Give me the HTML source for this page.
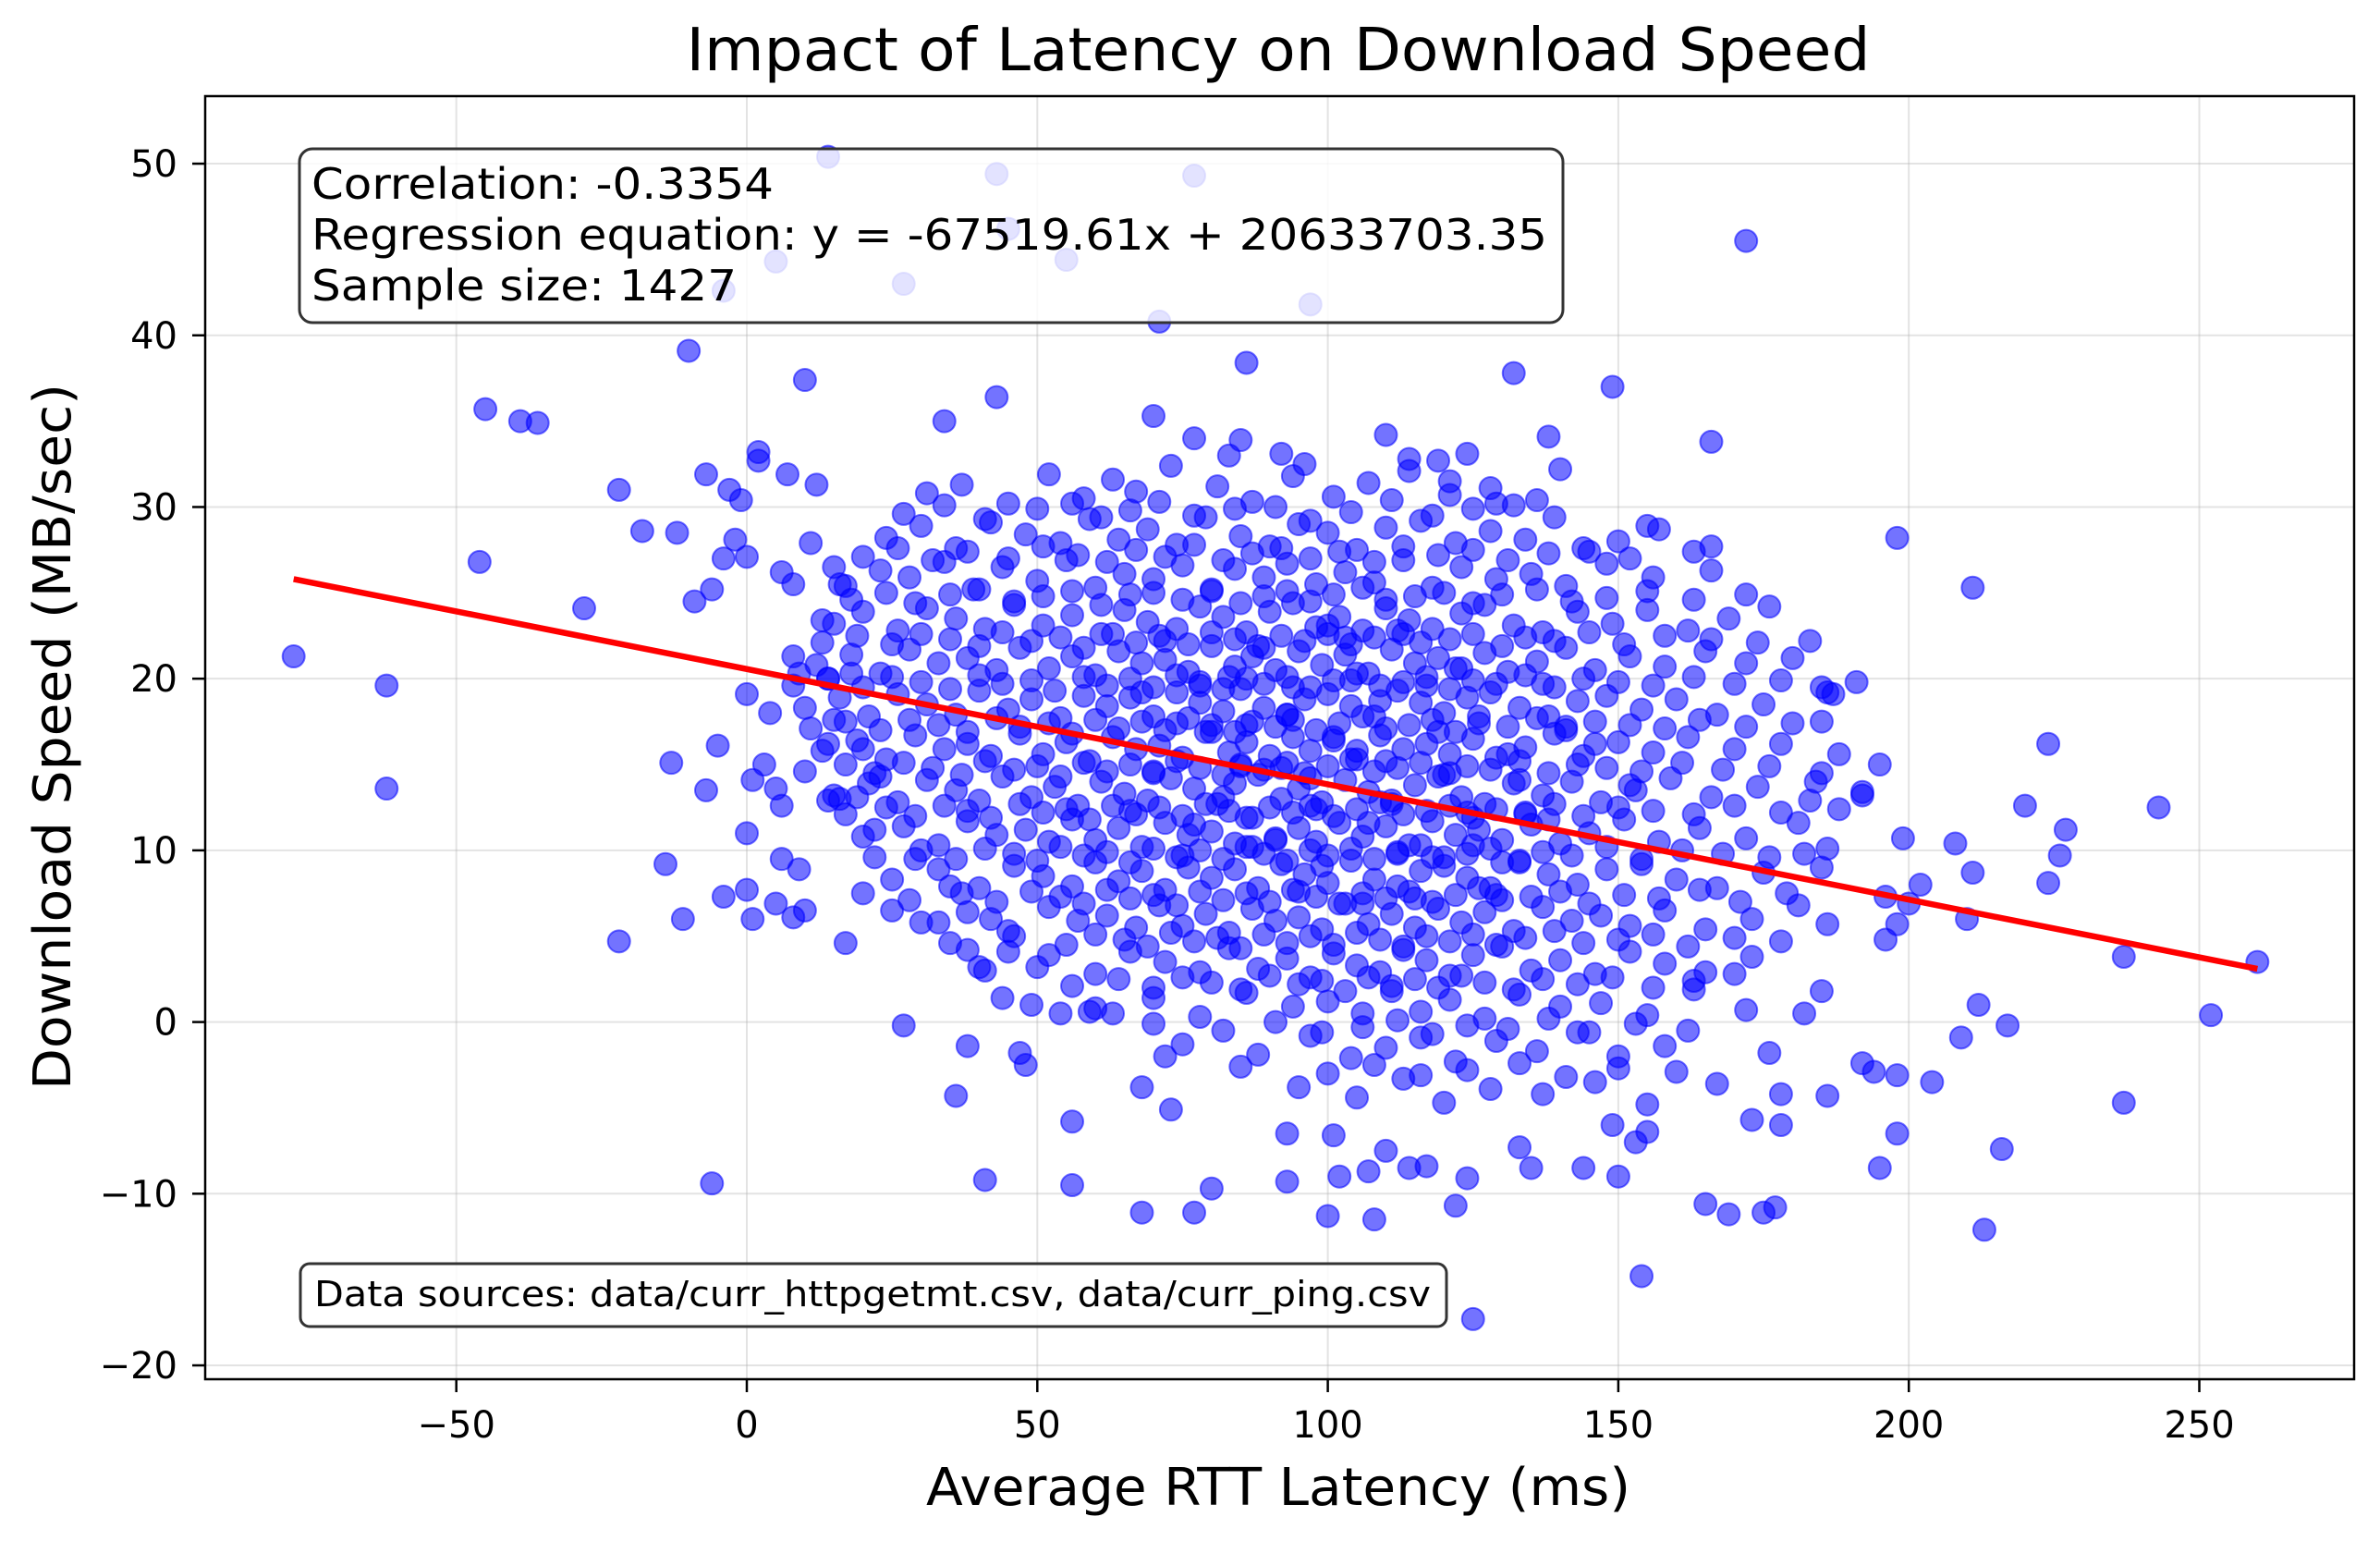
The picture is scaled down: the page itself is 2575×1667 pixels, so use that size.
<!DOCTYPE html>
<html><head><meta charset="utf-8"><style>
html,body{margin:0;padding:0;background:#fff;}
svg{display:block;font-family:"DejaVu Sans","Liberation Sans",sans-serif;}
</style></head><body>
<svg id="chart" width="2575" height="1667" viewBox="0 0 2575 1667" xmlns="http://www.w3.org/2000/svg">
<rect width="2575" height="1667" fill="#fff"/>
<text x="1383" y="76" font-size="64" text-anchor="middle" textLength="1281" lengthAdjust="spacingAndGlyphs">Impact of Latency on Download Speed</text>
<g id="grid"></g>
<g id="points"></g>
<g id="reg"></g>
<rect x="222" y="104" width="2325" height="1388" fill="none" stroke="#000" stroke-width="2.5"/>
<g id="ticks"></g>
<text x="1383" y="1628" font-size="56" text-anchor="middle" textLength="762" lengthAdjust="spacingAndGlyphs">Average RTT Latency (ms)</text>
<text x="0" y="0" font-size="56" text-anchor="middle" textLength="764" lengthAdjust="spacingAndGlyphs" transform="translate(76,797) rotate(-90)">Download Speed (MB/sec)</text>
<g>
<rect x="324" y="161" width="1367" height="188" rx="14" fill="#fff" fill-opacity="0.8" stroke="#333" stroke-width="3"/>
<text x="337" y="215" font-size="46" textLength="500" lengthAdjust="spacingAndGlyphs">Correlation: -0.3354</text>
<text x="337" y="270" font-size="46" textLength="1337" lengthAdjust="spacingAndGlyphs">Regression equation: y = -67519.61x + 20633703.35</text>
<text x="337" y="325" font-size="46" textLength="460" lengthAdjust="spacingAndGlyphs">Sample size: 1427</text>
</g>
<g>
<rect x="325" y="1367" width="1240" height="68" rx="10" fill="#fff" fill-opacity="0.8" stroke="#333" stroke-width="3"/>
<text x="340" y="1413" font-size="38" textLength="1208" lengthAdjust="spacingAndGlyphs">Data sources: data/curr_httpgetmt.csv, data/curr_ping.csv</text>
</g>
</svg>
<script>
const xTicks = [-50, 0, 50, 100, 150, 200, 250];
const yTicks = [-20, -10, 0, 10, 20, 30, 40, 50];
const regStart = [-78, 25.8];
const regEnd = [260, 3.1];
const latency = [
-78,-62,-62,-46,-45,-39,-36,-28,-22,-22,-18,-14,-13,-12,-11,-10,-9,-7,-7,-6,-6,-5,-4,-4,-4,-3,-2,-1,0,0,0,0,1,1,2,2,3,4,5,5,5,6,6,6,7,8,8,8,9,9,10,10,11,12,
14,27,43,45,55,77,71,97,172,86,132,149,43,34,70,77,85,83,92,96,110,114,119,124,121,129,140,138,166,150,155,166,198,211,224,220,227,226,224,243,237,252,260,237,216,213,212,217,204,209,210,208,211,199,198,196,198,198,195,194,192,196,200,202,192,191,186,185,184,183,182,182,186,186,185,178,176,178,175,177,173,169,165,154,153,155,150,149,144,135,133,125,122,124,114,117,108,107,110,102,101,93,93,100,77,68,80,56,41,36,56,73,68,72,47,48,38,27,63,59,54,49,44,45,42,50,41,38,33,35,29,25,20,17,22,23,19,16,14,18,20,15,14,13,14,15,16,
31,37,45,52,58,63,67,73,81,87,94,101,107,114,121,128,136,
24,30,36,42,48,54,59,64,69,74,79,85,90,95,100,105,110,116,122,128,134,145,157,
17,23,28,34,39,44,50,55,60,65,70,75,80,84,89,93,98,103,108,113,118,123,129,135,141,148,156,166,
15,20,26,31,36,41,46,51,56,61,65,69,74,78,82,86,90,94,98,102,106,110,114,118,123,127,132,137,143,149,155,162,169,176,
12,18,23,28,33,38,43,47,52,56,60,64,68,72,76,80,84,87,91,95,99,103,107,111,115,119,123,127,131,136,141,146,152,158,165,172,180,
10,16,21,26,31,36,40,45,49,54,58,62,66,70,74,78,82,85,89,93,96,100,104,108,112,116,120,124,128,133,138,143,148,154,160,167,175,187,
13,19,24,29,34,38,42,47,51,55,59,63,67,71,75,79,83,86,90,94,97,101,105,109,113,117,121,125,129,134,139,144,150,156,162,170,178,188,
15,21,26,31,36,40,44,49,53,57,61,65,69,73,77,81,84,88,92,95,99,103,107,111,115,119,123,127,132,137,142,147,153,159,166,174,183,192,
20,27,33,38,43,48,52,56,60,64,68,72,76,80,84,87,91,95,98,102,106,110,114,118,122,126,130,135,140,145,151,157,164,172,181,
25,33,40,46,51,56,60,64,68,72,76,80,84,88,92,96,100,104,108,112,116,120,124,128,133,138,143,148,154,160,167,175,185,
30,38,45,52,57,62,67,71,75,79,83,87,91,95,99,103,107,111,115,119,123,127,132,137,142,147,152,158,165,173,181,
40,52,60,66,72,78,83,88,93,97,101,105,109,113,117,121,125,130,135,140,146,152,158,165,173,
60,70,78,86,94,100,106,111,116,121,127,133,140,147,155,163,172,
75,88,97,104,110,116,122,129,136,143,150,158,
95,105,113,120,128,137,146,155,167,
72,78,86,92,98,104,110,118,126,134,
75,82,89,95,101,107,113,121,129,137,
70,80,87,94,100,106,112,119,124,131,
66,74,83,91,97,103,109,115,122,130,138,146,
68,77,85,93,99,105,111,117,125,133,141,152,
27,34,41,50,56,61,66,71,77,84,91,97,104,111,118,125,132,139,
20,26,32,38,45,51,57,62,67,72,77,82,87,92,97,102,108,113,119,125,131,138,144,152,163,
18,24,29,35,40,46,51,56,61,66,70,75,80,85,89,93,97,101,106,110,115,120,125,130,136,142,148,155,163,172,
13,19,25,30,35,40,44,49,54,58,63,67,71,76,80,84,88,92,96,100,104,108,112,116,121,125,130,134,139,145,151,158,166,174,
8,14,20,25,30,35,40,44,49,53,58,62,66,70,74,78,82,86,89,93,97,101,105,109,113,117,121,125,129,134,139,144,150,156,163,170,178,185,
11,17,23,28,33,38,43,47,52,56,60,64,68,72,76,80,84,87,91,94,98,102,106,110,114,118,122,126,131,136,141,146,152,158,164,172,180,
10,17,22,27,32,37,41,46,50,54,58,62,66,70,74,78,82,85,89,93,96,100,104,108,112,116,120,124,128,133,138,143,148,154,161,168,176,185,195,
17,24,29,34,38,42,47,51,55,59,63,67,71,75,79,83,86,90,94,97,101,105,109,113,117,121,125,129,134,139,144,150,156,163,170,178,188,
22,30,36,41,46,50,54,58,62,66,70,74,78,82,86,89,93,97,100,104,108,112,116,120,124,128,133,137,142,148,154,161,168,176,186,
28,37,43,49,54,58,62,66,70,74,78,82,86,90,94,98,102,106,110,114,118,122,126,130,135,140,145,151,157,164,171,179,
35,46,55,60,65,69,73,77,81,85,89,93,97,101,105,109,113,117,121,125,129,134,139,144,150,156,162,170,178,
56,64,70,75,80,85,90,95,99,103,107,111,115,119,123,127,132,137,143,149,156,163,170,
70,82,91,99,106,112,118,124,131,138,145,153,162,
85,100,108,116,124,133,141,150,160
];
const speed = [
21.3,19.6,13.6,26.8,35.7,35,34.9,24.1,31,4.7,28.6,9.2,15.1,28.5,6,39.1,24.5,31.9,13.5,-9.4,25.2,16.1,42.6,7.3,27,31,28.1,30.4,19.1,7.7,27.1,11,14.1,6,33.2,32.7,15,18,44.3,6.9,13.6,26.2,9.5,12.6,31.9,25.5,21.3,6.1,8.9,20.3,37.4,6.5,27.9,31.3,
50.4,43,49.4,46.2,44.4,49.3,40.8,41.8,45.5,38.4,37.8,37,36.4,35,35.3,34,33.9,33,33.1,32.5,34.2,32.8,32.7,33.1,31.5,30.2,32.2,34.1,33.8,28,28.9,27.7,28.2,25.3,16.2,12.6,11.2,9.7,8.1,12.5,3.8,0.4,3.5,-4.7,-7.4,-12.1,1,-0.2,-3.5,-0.9,6,10.4,8.7,10.7,5.7,4.8,-3.1,-6.5,-8.5,-2.9,-2.4,7.3,6.9,8,13.2,19.8,19.2,17.5,14,22.2,9.8,0.5,5.7,-4.3,1.8,-6,-1.8,-4.2,-11.1,-10.8,-5.7,-11.2,-10.6,-14.8,-7,-6.4,-9,-6,-8.5,-8.5,-7.3,-17.3,-10.7,-9.1,-8.5,-8.4,-11.5,-8.7,-7.5,-9,-6.6,-6.5,-9.3,-11.3,-11.1,-11.1,-9.7,-9.5,-9.2,-4.3,-5.8,-5.1,-3.8,-2,-1.8,-2.5,-1.4,-0.2,0.5,0.6,0.5,1,1.4,4.1,6,3.2,3,4.2,5.8,7.9,9.5,6.5,7.5,4.6,11.2,14.3,13.1,13,12.9,20.3,15.9,17.6,16.2,23.4,20,26.5,25.5,
30.8,31.3,30.2,31.9,30.5,31.6,30.9,32.4,31.2,30.3,31.8,30.6,31.4,32.1,30.7,31.1,30.4,
28.2,28.9,27.6,29.1,28.4,27.9,29.3,28.1,28.7,27.8,29.4,28.3,27.7,29.0,28.5,27.5,28.8,29.2,27.9,28.6,28.1,27.4,28.7,
25.4,26.3,25.9,26.8,25.2,26.5,25.7,26.9,25.3,26.1,25.8,26.6,25.1,26.4,25.9,26.7,25.5,26.2,25.6,26.9,25.3,26.5,25.8,26.1,25.4,26.7,25.9,26.3,
23.2,23.9,22.8,24.1,23.5,22.9,24.3,23.1,23.7,22.6,24.0,23.3,22.9,24.2,23.6,22.7,23.9,24.4,23.0,23.6,22.8,24.1,23.4,22.9,23.8,24.3,23.1,22.7,23.9,23.2,24.0,22.8,23.5,24.2,
20.8,21.4,20.3,21.7,20.9,21.2,20.5,21.8,20.6,21.3,20.2,21.6,20.9,21.1,20.4,21.9,20.7,21.3,20.5,21.6,20.8,21.4,20.3,21.7,20.9,21.2,20.6,21.5,20.4,21.0,21.8,20.5,21.3,20.7,21.6,20.9,21.2,
18.3,18.9,17.8,19.1,18.5,17.9,19.3,18.2,18.8,17.7,19.0,18.4,18.9,17.8,19.2,18.6,18.1,19.4,18.3,17.9,18.8,19.1,18.4,17.8,19.3,18.6,18.0,18.9,19.2,18.3,17.8,18.7,19.0,18.2,18.8,17.9,18.5,19.1,
15.8,16.4,15.3,16.7,15.9,16.2,15.5,16.8,15.6,16.3,15.2,16.6,15.9,16.1,15.4,16.9,15.7,16.3,15.5,16.6,15.8,16.4,15.3,16.7,15.9,16.2,15.6,16.5,15.4,16.0,16.8,15.5,16.3,15.7,16.6,15.9,16.2,15.6,
13.2,13.9,12.8,14.1,13.5,12.9,14.3,13.1,13.7,12.6,14.0,13.3,12.9,14.2,13.6,12.7,13.9,14.4,13.0,13.6,12.8,14.1,13.4,12.9,13.8,14.3,13.1,12.7,13.9,13.2,14.0,12.8,13.5,14.2,13.1,13.7,12.9,13.4,
10.8,11.4,10.3,11.7,10.9,11.2,10.5,11.8,10.6,11.3,10.2,11.6,10.9,11.1,10.4,11.9,10.7,11.3,10.5,11.6,10.8,11.4,10.3,11.7,10.9,11.2,10.6,11.5,10.4,11.0,11.8,10.5,11.3,10.7,11.6,
8.3,8.9,7.8,9.1,8.5,7.9,9.3,8.2,8.8,7.7,9.0,8.4,8.9,7.8,9.2,8.6,8.1,9.4,8.3,7.9,8.8,9.1,8.4,7.8,9.3,8.6,8.0,8.9,9.2,8.3,7.8,8.7,9.0,
5.8,6.4,5.3,6.7,5.9,6.2,5.5,6.8,5.6,6.3,5.2,6.6,5.9,6.1,5.4,6.9,5.7,6.3,5.5,6.6,5.8,6.4,5.3,6.7,5.9,6.2,5.6,6.5,5.4,6.0,6.8,
3.2,3.9,2.8,4.1,3.5,2.9,4.3,3.1,3.7,2.6,4.0,3.3,2.9,4.2,3.6,2.7,3.9,4.4,3.0,3.6,2.8,4.1,3.4,2.9,3.8,
0.8,1.4,0.3,1.7,0.9,1.2,0.5,1.8,0.6,1.3,0.2,1.6,0.9,1.1,0.4,1.9,0.7,
-1.3,-1.9,-0.8,-2.1,-1.5,-0.9,-2.3,-1.1,-1.7,-0.6,-2.0,-1.4,
-3.8,-4.4,-3.3,-4.7,-3.9,-4.2,-3.5,-4.8,-3.6,
22.2,19.6,17.3,14.8,12.4,19.9,15.2,9.6,17.8,12.1,
9.7,13.1,21.8,7.6,16.6,11.6,22.6,14.5,7.4,19.7,
14.6,16.9,10.2,19.5,23.1,6.9,9.8,16.9,12.2,15.6,
12.3,17.4,20.1,10.6,14.2,22.4,18.7,7.2,20.6,9.3,11.8,16.2,
19.2,11.5,14.9,17.9,9.1,15.8,12.7,19.6,10.3,14.1,17.2,13.8,
29.6,30.1,29.3,29.9,30.2,29.4,29.8,30.3,29.5,29.9,30.0,29.2,29.7,30.4,29.5,29.9,30.1,29.4,
27.1,27.6,26.9,27.4,27.0,27.7,27.2,26.8,27.5,27.1,27.8,26.9,27.3,27.6,27.0,27.4,26.8,27.7,27.2,27.5,26.9,27.3,27.6,27.0,27.4,
24.6,25.0,24.4,24.9,25.2,24.5,24.8,25.1,24.3,24.9,25.0,24.6,25.2,24.4,24.8,25.1,24.5,24.9,25.3,24.6,24.8,25.0,24.4,24.9,25.2,24.5,24.7,25.1,24.6,24.9,
22.1,22.5,22.0,22.6,22.3,21.9,22.7,22.2,22.4,21.8,22.6,22.1,22.5,22.0,22.7,22.3,21.9,22.5,22.2,22.6,22.0,22.4,22.8,22.1,22.3,22.6,21.9,22.4,22.2,22.7,22.0,22.5,22.3,22.1,
19.6,20.0,19.5,20.1,19.8,19.4,20.2,19.7,19.9,19.3,20.1,19.6,20.0,19.5,20.2,19.8,19.4,20.0,19.7,20.1,19.5,19.9,20.3,19.6,19.8,20.1,19.4,19.9,19.7,20.2,19.5,20.0,19.8,19.6,20.1,19.7,19.9,19.5,
17.1,17.5,17.0,17.6,17.3,16.9,17.7,17.2,17.4,16.8,17.6,17.1,17.5,17.0,17.7,17.3,16.9,17.5,17.2,17.6,17.0,17.4,17.8,17.1,17.3,17.6,16.9,17.4,17.2,17.7,17.0,17.5,17.3,17.1,17.6,17.2,17.4,
14.6,15.0,14.5,15.1,14.8,14.4,15.2,14.7,14.9,14.3,15.1,14.6,15.0,14.5,15.2,14.8,14.4,15.0,14.7,15.1,14.5,14.9,15.3,14.6,14.8,15.1,14.4,14.9,14.7,15.2,14.5,15.0,14.8,14.6,15.1,14.7,14.9,14.5,15.0,
12.1,12.5,12.0,12.6,12.3,11.9,12.7,12.2,12.4,11.8,12.6,12.1,12.5,12.0,12.7,12.3,11.9,12.5,12.2,12.6,12.0,12.4,12.8,12.1,12.3,12.6,11.9,12.4,12.2,12.7,12.0,12.5,12.3,12.1,12.6,12.2,12.4,
9.6,10.0,9.5,10.1,9.8,9.4,10.2,9.7,9.9,9.3,10.1,9.6,10.0,9.5,10.2,9.8,9.4,10.0,9.7,10.1,9.5,9.9,10.3,9.6,9.8,10.1,9.4,9.9,9.7,10.2,9.5,10.0,9.8,9.6,10.1,
7.1,7.5,7.0,7.6,7.3,6.9,7.7,7.2,7.4,6.8,7.6,7.1,7.5,7.0,7.7,7.3,6.9,7.5,7.2,7.6,7.0,7.4,7.8,7.1,7.3,7.6,6.9,7.4,7.2,7.7,7.0,7.5,
4.6,5.0,4.5,5.1,4.8,4.4,5.2,4.7,4.9,4.3,5.1,4.6,5.0,4.5,5.2,4.8,4.4,5.0,4.7,5.1,4.5,4.9,5.3,4.6,4.8,5.1,4.4,4.9,4.7,
2.1,2.5,2.0,2.6,2.3,1.9,2.7,2.2,2.4,1.8,2.6,2.1,2.5,2.0,2.7,2.3,1.9,2.5,2.2,2.6,2.0,2.4,2.8,
-0.1,-0.5,0.0,-0.6,-0.3,0.1,-0.7,-0.2,-0.4,0.2,-0.6,-0.1,-0.5,
-2.6,-3.0,-2.5,-3.1,-2.8,-2.4,-3.2,-2.7,-2.9
];
const NS = 'http://www.w3.org/2000/svg';
const L = 222, R = 2547, T = 104, B = 1492;
function X(v){ return 808 + v * 6.286; }
function Y(v){ return 1105.6 - v * 18.571; }
function mk(tag, attrs, parent){ const e = document.createElementNS(NS, tag); for (const k in attrs) e.setAttribute(k, attrs[k]); parent.appendChild(e); return e; }
const grid = document.getElementById('grid');
const ticks = document.getElementById('ticks');
xTicks.forEach(t => {
  const g = mk('line', {x1: X(t), x2: X(t), y1: T, y2: B, stroke: '#b0b0b0', 'stroke-opacity': 0.35, 'stroke-width': 2}, grid);
  
  
  const tk = mk('line', {x1: X(t), x2: X(t), y1: B, y2: B + 14, stroke: '#000', 'stroke-width': 2.5}, ticks);
  
  
  const lb = mk('text', {x: X(t), y: 1555, 'font-size': 40, 'text-anchor': 'middle'}, ticks);
  lb.textContent = t < 0 ? '\u2212' + Math.abs(t) : String(t);
  
  
});
yTicks.forEach(t => {
  const g = mk('line', {x1: L, x2: R, y1: Y(t), y2: Y(t), stroke: '#b0b0b0', 'stroke-opacity': 0.35, 'stroke-width': 2}, grid);
  
  
  const tk = mk('line', {x1: L - 14, x2: L, y1: Y(t), y2: Y(t), stroke: '#000', 'stroke-width': 2.5}, ticks);
  
  
  const lb = mk('text', {x: 192, y: Y(t) + 14, 'font-size': 40, 'text-anchor': 'end'}, ticks);
  lb.textContent = t < 0 ? '\u2212' + Math.abs(t) : String(t);
  
  
});
const pts = document.getElementById('points');
const n = Math.min(latency.length, speed.length);
for (let i = 0; i < n; i++) {
  const c = mk('circle', {cx: X(latency[i]), cy: Y(speed[i]), r: 12, fill: 'rgba(0,0,255,0.55)', stroke: 'rgba(0,0,255,0.55)', 'stroke-width': 2}, pts);
  
  
}
const reg = document.getElementById('reg');
const rl = mk('line', {x1: X(regStart[0]), y1: Y(regStart[1]), x2: X(regEnd[0]), y2: Y(regEnd[1]), stroke: '#ff0000', 'stroke-width': 6.5}, reg);


</script>
</body></html>
